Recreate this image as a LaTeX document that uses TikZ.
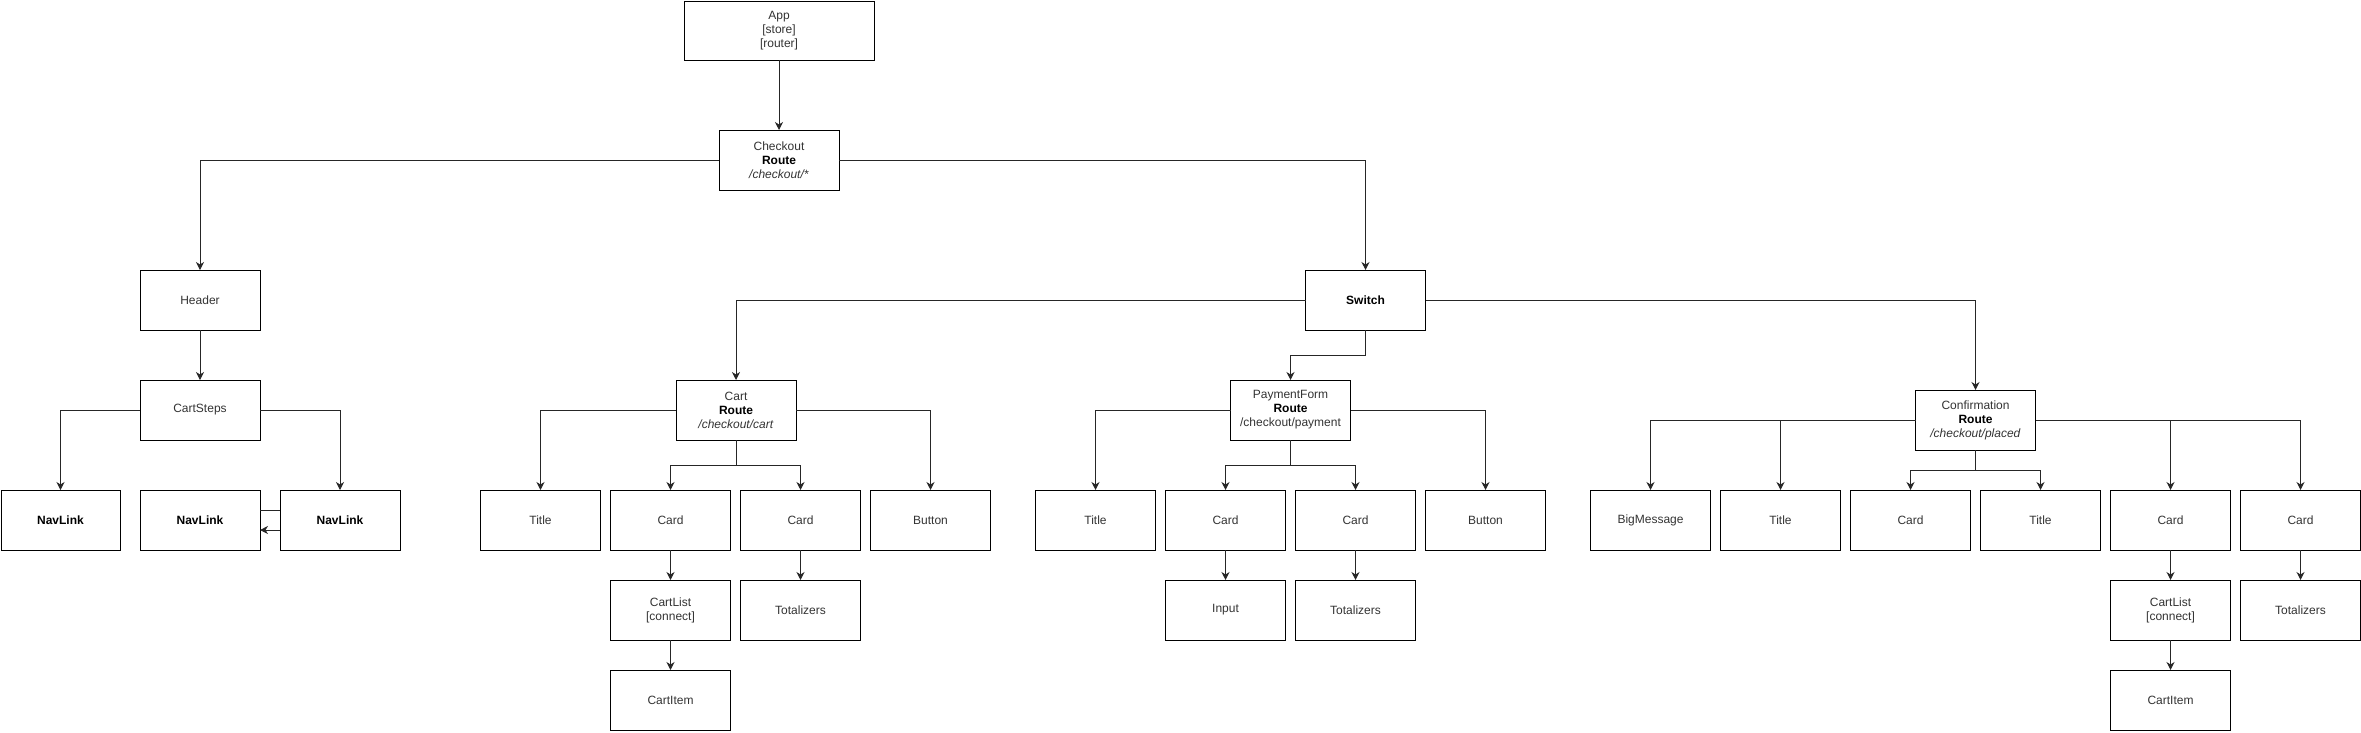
\documentclass[tikz,border=0pt]{standalone}
\usepackage{fontspec}
\setmainfont{Liberation Sans}
\usetikzlibrary{arrows.meta}
\definecolor{txt}{HTML}{333333}
\tikzset{
  box/.style={draw=black, line width=1pt, minimum width=120pt, minimum height=60pt,
    inner sep=0pt, outer sep=0pt, align=center, text=txt,
    font=\fontsize{12}{14}\selectfont},
  conn/.style={draw=black!85, line width=1pt},
  arr/.style={conn, -{Stealth[length=8pt,width=8pt,inset=2.5pt]}},
}
\begin{document}
\begin{tikzpicture}[x=1pt,y=-1pt]
\useasboundingbox (0,0) rectangle (2361,732);
% top
\node[box, minimum width=190pt, minimum height=59pt] (app) at (779,30.5) {App\\{[store]}\\{[router]}};
\node[box] (checkout) at (779,160) {Checkout\\\textbf{\color{black}Route}\\\textit{/checkout/*}};
% header branch
\node[box] (header) at (200,300) {Header};
\node[box] (cartsteps) at (200,410) {CartSteps};
\node[box, minimum width=119pt] (nav1) at (60.5,520) {\textbf{\color{black}NavLink}};
\node[box] (nav2) at (200,520) {\textbf{\color{black}NavLink}};
\node[box] (nav3) at (340,520) {\textbf{\color{black}NavLink}};
% switch
\node[box] (switch) at (1365.5,300) {\textbf{\color{black}Switch}};
% cart
\node[box] (cart) at (736,410) {Cart\\\textbf{\color{black}Route}\\\textit{/checkout/cart}};
\node[box] (ctitle) at (540.5,520) {Title};
\node[box] (ccard1) at (670.5,520) {Card};
\node[box] (ccard2) at (800.5,520) {Card};
\node[box] (cbutton) at (930.5,520) {Button};
\node[box] (ccartlist) at (670.5,610) {CartList\\{[connect]}};
\node[box] (ctotal) at (800.5,610) {Totalizers};
\node[box] (ccartitem) at (670.5,700) {CartItem};
% payment
\node[box] (pf) at (1290.5,410) {PaymentForm\\\textbf{\color{black}Route}\\/checkout/payment};
\node[box] (ptitle) at (1095.5,520) {Title};
\node[box] (pcard1) at (1225.5,520) {Card};
\node[box] (pcard2) at (1355.5,520) {Card};
\node[box] (pbutton) at (1485.5,520) {Button};
\node[box] (pinput) at (1225.5,610) {Input};
\node[box] (ptotal) at (1355.5,610) {Totalizers};
% confirmation
\node[box] (conf) at (1975.5,420) {Confirmation\\\textbf{\color{black}Route}\\\textit{/checkout/placed}};
\node[box] (fbig) at (1650.5,520) {BigMessage};
\node[box] (ftitle1) at (1780.5,520) {Title};
\node[box] (fcard1) at (1910.5,520) {Card};
\node[box] (ftitle2) at (2040.5,520) {Title};
\node[box] (fcard2) at (2170.5,520) {Card};
\node[box] (fcard3) at (2300.5,520) {Card};
\node[box] (fcartlist) at (2170.5,610) {CartList\\{[connect]}};
\node[box] (ftotal) at (2300.5,610) {Totalizers};
\node[box] (fcartitem) at (2170.5,700) {CartItem};
% connectors
\draw[arr] (app) -- (checkout);
\draw[arr] (checkout.west) -| (header.north);
\draw[arr] (checkout.east) -| (switch.north);
\draw[arr] (header) -- (cartsteps);
\draw[arr] (cartsteps.west) -| (nav1.north);
\draw[arr] (cartsteps.east) -| (nav3.north);
\draw[conn] ([yshift=10pt]nav2.east) -- ([yshift=10pt]nav3.west);
\draw[arr] ([yshift=-10pt]nav3.west) -- ([yshift=-10pt]nav2.east);
\draw[arr] (switch.west) -| (cart.north);
\draw[arr] (switch.east) -| (conf.north);
\draw[arr] (switch.south) -- ++(0,25) -| (pf.north);
% cart
\draw[arr] (cart.west) -| (ctitle.north);
\draw[arr] (cart.east) -| (cbutton.north);
\draw[arr] (cart.south) -- ++(0,25) -| (ccard1.north);
\draw[arr] (cart.south) -- ++(0,25) -| (ccard2.north);
\draw[arr] (ccard1) -- (ccartlist);
\draw[arr] (ccard2) -- (ctotal);
\draw[arr] (ccartlist) -- (ccartitem);
% payment
\draw[arr] (pf.west) -| (ptitle.north);
\draw[arr] (pf.east) -| (pbutton.north);
\draw[arr] (pf.south) -- ++(0,25) -| (pcard1.north);
\draw[arr] (pf.south) -- ++(0,25) -| (pcard2.north);
\draw[arr] (pcard1) -- (pinput);
\draw[arr] (pcard2) -- (ptotal);
% confirmation
\draw[arr] (conf.west) -| (fbig.north);
\draw[arr] (conf.west) -| (ftitle1.north);
\draw[arr] (conf.east) -| (fcard2.north);
\draw[arr] (conf.east) -| (fcard3.north);
\draw[arr] (conf.south) -- ++(0,20) -| (fcard1.north);
\draw[arr] (conf.south) -- ++(0,20) -| (ftitle2.north);
\draw[arr] (fcard2) -- (fcartlist);
\draw[arr] (fcard3) -- (ftotal);
\draw[arr] (fcartlist) -- (fcartitem);
\end{tikzpicture}
\end{document}
